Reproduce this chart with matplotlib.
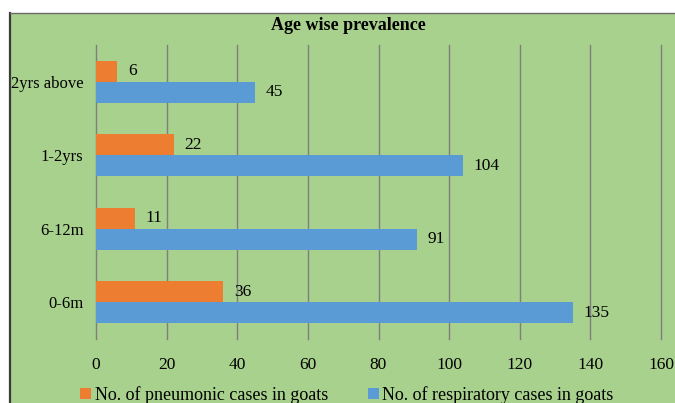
import matplotlib.pyplot as plt
import matplotlib.patches as mpatches
import numpy as np

# data
categories = ["0-6m", "6-12m", "1-2yrs", "2yrs above"]
pneumonic = [36, 11, 22, 6]
respiratory = [135, 91, 104, 45]
xticks = [0, 20, 40, 60, 80, 100, 120, 140, 160]

plt.rcParams['font.family'] = ['Liberation Serif', 'DejaVu Serif']

green = "#A9D18E"
orange = "#ED7D31"
blue = "#5B9BD5"

fig = plt.figure(figsize=(6.75, 4.03), dpi=100)
fig.patch.set_facecolor("white")

# green chart area with dark border on left/top
bg = mpatches.Rectangle((10 / 675, 0), 1, 390 / 403, transform=fig.transFigure,
                        facecolor=green, edgecolor="none", zorder=-5)
fig.patches.append(bg)
fig.add_artist(plt.Line2D([10 / 675, 10 / 675], [0, 390 / 403], transform=fig.transFigure,
                          color="#3a3a3a", lw=1.6, zorder=-4))
fig.add_artist(plt.Line2D([10 / 675, 1], [390 / 403, 390 / 403], transform=fig.transFigure,
                          color="#6a6a6a", lw=1.0, zorder=-4))

ax = fig.add_axes([96 / 675, 1 - 339 / 403, (661 - 96) / 675, 294 / 403])
ax.set_facecolor("none")

y = np.arange(len(categories))
h = 0.284
bp = ax.barh(y + h / 2, pneumonic, height=h, color=orange, zorder=3,
             label="No. of pneumonic cases in goats")
br = ax.barh(y - h / 2, respiratory, height=h, color=blue, zorder=3,
             label="No. of respiratory cases in goats")

for bars in (bp, br):
    for b in bars:
        ax.text(b.get_width() + 3, b.get_y() + b.get_height() / 2, f"{int(b.get_width())}",
                va="center", ha="left", fontsize=12.5, color="black")

ax.set_xlim(0, 160)
ax.set_ylim(-0.5, 3.5)
ax.set_xticks(xticks)
ax.set_xticklabels([str(t) for t in xticks], fontsize=12.5)
ax.set_yticks(y)
ax.set_yticklabels(categories, fontsize=12)
ax.tick_params(axis="y", length=0, pad=9)
ax.tick_params(axis="x", length=0, pad=13)
ax.xaxis.grid(True, color="#7f7f7f", lw=1.0, zorder=1)
for gl in ax.get_xgridlines():
    gl.set_clip_on(False)
for s in ax.spines.values():
    s.set_visible(False)

fig.text(348 / 675, 1 - 25 / 403, "Age wise prevalence", ha="center", va="center",
         fontsize=13, fontweight="bold")

fig.legend(handles=[bp, br], loc="center", bbox_to_anchor=(347 / 675, 1 - 395 / 403), ncol=2,
           frameon=False, fontsize=13, handlelength=0.6, handleheight=0.6,
           handletextpad=0.2, columnspacing=2.2, borderpad=0)

fig.savefig("out.png", dpi=100)
